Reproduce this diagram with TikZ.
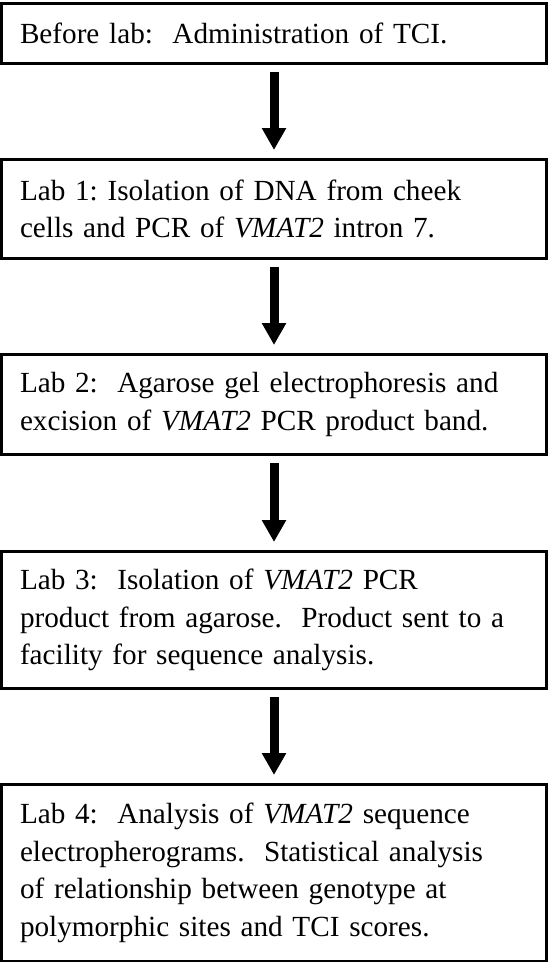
\documentclass[tikz,border=0pt]{standalone}
\usepackage{fontspec}
\setmainfont{Liberation Serif}
\usetikzlibrary{arrows.meta}
\begin{document}
\frenchspacing
\begin{tikzpicture}[
  x=1pt,y=1pt,
  stepbox/.style={draw=black,line width=3pt,anchor=north,minimum width=545pt,
    text width=508pt,align=left,inner xsep=18.5pt,inner ysep=0pt,
    font=\fontsize{29.2}{37.5}\selectfont},
  flow/.style={line width=9pt,-{Triangle[width=23pt,length=22pt]},shorten <=7pt,shorten >=8pt}
]
\useasboundingbox (0,0) rectangle (550,-962);
\node[stepbox,minimum height=60pt] (b1) at (274,-1.5) {Before lab:~ Administration of TCI.};
\node[stepbox,minimum height=99pt] (b2) at (274,-158) {Lab 1: Isolation of DNA from cheek\\cells and PCR of \textit{VMAT2} intron 7.};
\node[stepbox,minimum height=100pt] (b3) at (274,-353) {Lab 2:~ Agarose gel electrophoresis and\\excision of \textit{VMAT2} PCR product band.};
\node[stepbox,minimum height=137pt] (b4) at (274,-550) {Lab 3:~ Isolation of \textit{VMAT2} PCR\\product from agarose.~ Product sent to a\\facility for sequence analysis.};
\node[stepbox,minimum height=177pt] (b5) at (274,-783) {Lab 4:~ Analysis of \textit{VMAT2} sequence\\electropherograms.~ Statistical analysis\\of relationship between genotype at\\polymorphic sites and TCI scores.};
\draw[flow] (b1.south) -- (b2.north);
\draw[flow] (b2.south) -- (b3.north);
\draw[flow] (b3.south) -- (b4.north);
\draw[flow] (b4.south) -- (b5.north);
\end{tikzpicture}
\end{document}
